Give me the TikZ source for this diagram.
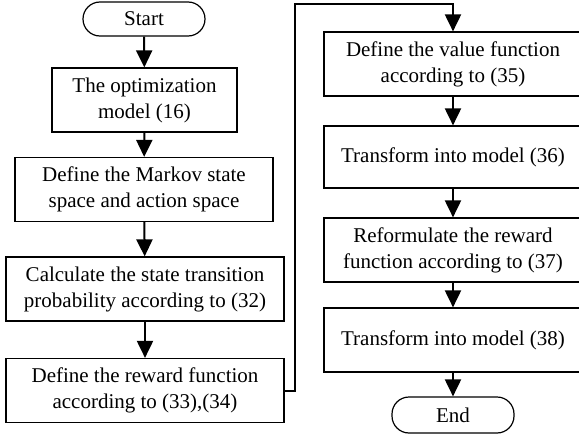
\documentclass[tikz,border=0pt]{standalone}
\usepackage{fontspec}
\setmainfont{Liberation Serif}
\usetikzlibrary{arrows.meta}

\begin{document}
\begin{tikzpicture}[x=0.5pt, y=-0.5pt,
        box/.style={rectangle, draw, line width=0.6pt, align=center, minimum height=32pt, inner sep=1pt, font=\fontsize{10.5}{13}\selectfont},
        term/.style={box, rounded corners=8.5pt, minimum height=17pt, minimum width=61pt},
        arr/.style={-{Triangle[length=8.5pt,width=8pt]}, line width=1pt}]
            \useasboundingbox (0,0) rectangle (579,439);
            % left column
            \node[term] (start) at (144,19) {Start};
            \node[box, minimum width=92.5pt] (c1) at (144.5,100) {The optimization\\model (16)};
            \node[box, minimum width=129pt] (c2) at (144,189.5) {Define the Markov state\\space and action space};
            \node[box, minimum width=139pt] (c3) at (145,289) {Calculate the state transition\\probability according to (32)};
            \node[box, minimum width=139pt] (c4) at (145,390.5) {Define the reward function\\according to (33),(34)};
            % right column
            \node[box, minimum width=129pt] (c5) at (453,64) {Define the value function\\according to (35)};
            \node[box, minimum width=129pt, minimum height=31pt] (c6) at (453,157) {Transform into model (36)};
            \node[box, minimum width=129pt] (c7) at (453,250) {Reformulate the reward\\function according to (37)};
            \node[box, minimum width=129pt] (c8) at (453,340) {Transform into model (38)};
            \node[term, minimum height=18pt] (end) at (453,415) {End};
            \coordinate (k1) at (295,4);
            \draw[arr] (start) -- (c1);
            \draw[arr] (c1) -- (c2);
            \draw[arr] (c2) -- (c3);
            \draw[arr] (c3) -- (c4);
            \draw[arr] (c4.east) -| (k1) -| (c5);
            \draw[arr] (c5) -- (c6);
            \draw[arr] (c6) -- (c7);
            \draw[arr] (c7) -- (c8);
            \draw[arr] (c8) -- (end);
        \end{tikzpicture}
\end{document}
